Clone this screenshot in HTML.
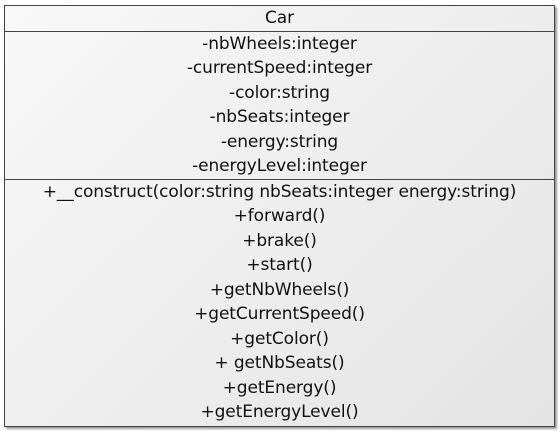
<!DOCTYPE html>
<html><head><style>
html,body{margin:0;padding:0;width:560px;height:431px;background:#fff;overflow:hidden}
.box{position:absolute;left:4px;top:5px;width:549px;height:420px;border:1px solid #444;
background:linear-gradient(135deg,#f8f8f8,#e4e4e4);box-shadow:2px 2px 2px #999;
font-family:"DejaVu Sans","Liberation Sans",sans-serif;font-size:17px;color:#111;text-align:center}
.t{height:25px;line-height:25px;border-bottom:1px solid #444}
.a{border-bottom:1px solid #444;padding-top:0;height:147px}
.r{height:24.5px;line-height:24.5px;letter-spacing:-0.1px;white-space:nowrap}
</style></head><body>
<div class="box">
<div class="t r">Car</div>
<div class="a">
<div class="r">-nbWheels:integer</div>
<div class="r">-currentSpeed:integer</div>
<div class="r">-color:string</div>
<div class="r">-nbSeats:integer</div>
<div class="r">-energy:string</div>
<div class="r">-energyLevel:integer</div>
</div>
<div>
<div class="r">+__construct(color:string nbSeats:integer energy:string)</div>
<div class="r">+forward()</div>
<div class="r">+brake()</div>
<div class="r">+start()</div>
<div class="r">+getNbWheels()</div>
<div class="r">+getCurrentSpeed()</div>
<div class="r">+getColor()</div>
<div class="r">+ getNbSeats()</div>
<div class="r">+getEnergy()</div>
<div class="r">+getEnergyLevel()</div>
</div>
</div>
</body></html>
